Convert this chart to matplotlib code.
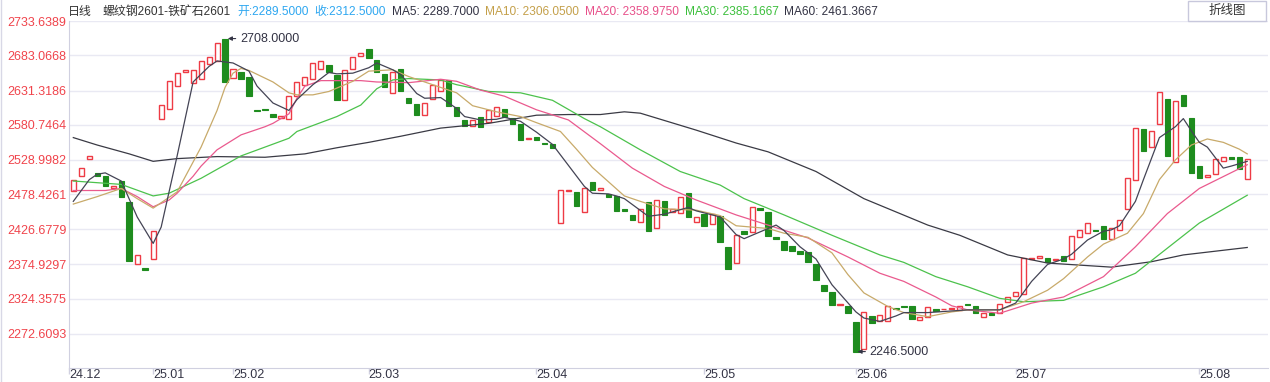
import numpy as np
import matplotlib
matplotlib.use("Agg")
import matplotlib.pyplot as plt
from matplotlib.patches import Rectangle

plt.rcParams["font.family"] = ["Liberation Sans", "Noto Sans CJK SC", "DejaVu Sans"]

# --- daily candles (no wicks shown) -------------------------------------------
opens = [2483, 2505, 2531, 2510, 2505, 2487, 2498, 2467, 2375, 2370,
         2383, 2590, 2604, 2638, 2659, 2643, 2649, 2670, 2675, 2708,
         2650, 2658, 2652, 2602, 2604, 2597, 2591, 2589, 2623, 2640,
         2648, 2663, 2669, 2654, 2617, 2663, 2682, 2692, 2676, 2656,
         2628, 2663, 2620, 2612, 2595, 2619, 2631, 2647, 2607, 2588,
         2579, 2593, 2585, 2594, 2604, 2591, 2582, 2560, 2563, 2554,
         2553, 2436, 2483, 2482, 2452, 2496, 2485, 2479, 2476, 2456,
         2448, 2438, 2467, 2429, 2469, 2452, 2451, 2480, 2438, 2449,
         2435, 2446, 2401, 2377, 2425, 2423, 2458, 2453, 2415, 2410,
         2402, 2395, 2394, 2376, 2345, 2335, 2315, 2313, 2290, 2251,
         2299, 2292, 2291, 2311, 2314, 2313, 2293, 2298, 2309, 2309,
         2309, 2308, 2316, 2313, 2297, 2304, 2304, 2320, 2329, 2331,
         2383, 2384, 2385, 2381, 2387, 2383, 2416, 2421, 2426, 2431,
         2412, 2426, 2456, 2500, 2574, 2548, 2582, 2619, 2526, 2625,
         2591, 2520, 2504, 2508, 2527, 2534, 2533, 2501]
closes = [2500, 2517, 2535, 2506, 2491, 2490, 2475, 2380, 2389, 2367,
          2424, 2610, 2645, 2657, 2662, 2662, 2675, 2681, 2701, 2644,
          2663, 2648, 2624, 2601, 2603, 2592, 2594, 2623, 2644, 2651,
          2672, 2675, 2658, 2617, 2662, 2681, 2687, 2680, 2658, 2637,
          2659, 2630, 2613, 2596, 2613, 2640, 2647, 2608, 2594, 2579,
          2588, 2577, 2603, 2607, 2593, 2582, 2558, 2562, 2558, 2553,
          2547, 2484, 2485, 2461, 2487, 2484, 2487, 2475, 2454, 2454,
          2441, 2456, 2425, 2470, 2448, 2456, 2475, 2445, 2445, 2432,
          2450, 2408, 2368, 2418, 2420, 2459, 2455, 2417, 2412, 2396,
          2395, 2391, 2378, 2352, 2336, 2315, 2317, 2304, 2246.5, 2305,
          2288, 2301, 2314, 2310, 2312, 2294, 2298, 2312, 2307, 2310,
          2311, 2313, 2315, 2304, 2304, 2301, 2317, 2327, 2334, 2384,
          2385, 2387, 2378, 2383, 2380, 2417, 2426, 2436, 2424, 2412,
          2428, 2440, 2502, 2576, 2542, 2571, 2629, 2535, 2616, 2608,
          2510, 2502, 2507, 2530, 2533, 2531, 2515, 2531]

# --- moving averages, sampled at candle indices ------------------------------
ma5_at = [0, 2, 3, 4, 6, 8, 10, 11, 13, 15, 17, 18, 20, 22, 23, 25, 27, 28, 30,
          32, 33, 35, 37, 38, 40, 41, 43, 44, 46, 48, 49, 51, 53, 54, 56, 58, 60,
          62, 64, 65, 67, 68, 69, 72, 74, 77, 78, 81, 83, 84, 86, 88, 89, 91, 93,
          95, 98, 99, 101, 103, 104, 107, 112, 116, 118, 120, 122, 124, 125, 127,
          129, 130, 131, 133, 134, 136, 138, 139, 140, 141, 142, 144, 145, 147]
ma5 = [2468, 2500, 2508, 2510, 2498, 2445, 2406, 2430, 2535, 2644, 2667, 2675,
       2672, 2660, 2638, 2613, 2602, 2618, 2640, 2658, 2656, 2657, 2665, 2672,
       2662, 2655, 2627, 2620, 2621, 2605, 2593, 2588, 2589, 2592, 2586, 2570,
       2552, 2521, 2490, 2480, 2479, 2476, 2472, 2446, 2449, 2459, 2454, 2445,
       2419, 2413, 2423, 2433, 2425, 2401, 2383, 2345, 2305, 2296, 2291, 2299,
       2304, 2304, 2308, 2308, 2318, 2350, 2375, 2383, 2390, 2411, 2424, 2426,
       2432, 2468, 2500, 2562, 2578, 2590, 2572, 2555, 2548, 2517, 2520, 2527]

ma10_at = [0, 3, 6, 8, 10, 13, 16, 18, 19, 20, 21, 22, 25, 27, 28, 30, 32, 35,
           37, 40, 42, 45, 48, 50, 53, 56, 58, 61, 63, 65, 69, 71, 74, 78, 81,
           83, 87, 89, 92, 95, 97, 99, 102, 104, 107, 110, 112, 116, 119, 122,
           124, 127, 129, 132, 134, 136, 138, 140, 142, 144, 146, 147]
ma10 = [2464, 2475, 2487, 2472, 2458, 2482, 2548, 2602, 2636, 2657, 2664, 2661,
        2644, 2628, 2625, 2625, 2630, 2645, 2660, 2662, 2652, 2640, 2628, 2609,
        2600, 2593, 2584, 2571, 2545, 2518, 2476, 2468, 2457, 2455, 2447, 2432,
        2428, 2421, 2415, 2392, 2360, 2333, 2313, 2304, 2298, 2305, 2308, 2308,
        2320, 2337, 2354, 2386, 2405, 2421, 2450, 2500, 2529, 2551, 2560, 2555,
        2545, 2538]

ma20_at = [0, 4, 6, 8, 10, 12, 13, 15, 16, 18, 21, 24, 25, 27, 28, 29, 31, 36,
           38, 42, 46, 48, 51, 54, 58, 62, 66, 70, 74, 78, 83, 87, 92, 97, 101,
           104, 108, 110, 112, 116, 120, 124, 129, 133, 137, 141, 147]
ma20 = [2484, 2484, 2487, 2475, 2460, 2470, 2480, 2505, 2520, 2544, 2566, 2578,
        2583, 2597, 2620, 2638, 2646, 2646, 2644, 2643, 2648, 2645, 2632, 2623,
        2603, 2588, 2553, 2517, 2490, 2470, 2448, 2433, 2414, 2386, 2362, 2350,
        2327, 2314, 2308, 2303, 2318, 2327, 2357, 2401, 2450, 2487, 2522]

ma30_at = [0, 6, 10, 12, 16, 21, 27, 28, 33, 36, 38, 40, 42, 46, 48, 52, 56, 60,
           64, 66, 71, 76, 81, 84, 89, 95, 101, 104, 108, 112, 116, 119, 124,
           129, 133, 137, 141, 147]
ma30 = [2498, 2493, 2476, 2480, 2502, 2535, 2561, 2571, 2593, 2610, 2634, 2647,
        2649, 2647, 2640, 2630, 2628, 2617, 2590, 2578, 2544, 2512, 2492, 2472,
        2448, 2418, 2389, 2378, 2357, 2342, 2325, 2320, 2322, 2342, 2362, 2399,
        2436, 2477]

ma60_at = [0, 3, 7, 10, 13, 18, 24, 29, 33, 37, 41, 46, 52, 58, 62, 66, 69, 71,
           78, 83, 87, 93, 99, 107, 111, 117, 122, 130, 135, 139, 147]
ma60 = [2562, 2551, 2538, 2527, 2531, 2534, 2533, 2538, 2547, 2555, 2564, 2576,
        2583, 2595, 2596, 2596, 2600, 2598, 2573, 2554, 2541, 2512, 2472, 2433,
        2418, 2389, 2377, 2371, 2379, 2389, 2400]

# --- axis labels ---------------------------------------------------------------
y_ticks = [2272.6093, 2324.3575, 2374.9297, 2426.6779, 2478.4261,
           2528.9982, 2580.7464, 2631.3186, 2683.0668, 2733.6389]
month_labels = ["24.12", "25.01", "25.02", "25.03", "25.04", "25.05", "25.06", "25.07", "25.08"]
month_start = [0, 10, 20, 37, 58, 79, 98, 118, 141]

header = [("日线", "#333333"),
          ("螺纹钢2601-铁矿石2601", "#333333"),
          ("开:2289.5000", "#2ea7f0"),
          ("收:2312.5000", "#2ea7f0"),
          ("MA5: 2289.7000", "#333344"),
          ("MA10: 2306.0500", "#c4a04a"),
          ("MA20: 2358.9750", "#e8508a"),
          ("MA30: 2385.1667", "#3cbf3c"),
          ("MA60: 2461.3667", "#333344")]

UP, DOWN = "#ee3b45", "#1e8c1e"
W, H = 1270, 382

fig = plt.figure(figsize=(W / 100, H / 100), dpi=100)
ax = fig.add_axes([69 / W, 14 / H, (1268 - 69) / W, (368 - 21) / H])
xlo, xhi = -0.54, 149.6
ax.set_xlim(xlo, xhi)
ax.set_ylim(2222.3, 2733.9)

idx = np.arange(len(opens))
o = np.array(opens, float)
c = np.array(closes, float)
up = c >= o
ax.bar(idx[up], (c - o)[up], bottom=o[up], width=0.64, facecolor="white",
       edgecolor=UP, linewidth=1.0, zorder=2)
ax.bar(idx[~up], (c - o)[~up], bottom=o[~up], width=0.68, facecolor=DOWN,
       edgecolor=DOWN, linewidth=0.8, zorder=2)

for at, vals, col in [(ma60_at, ma60, "#3a3a44"), (ma30_at, ma30, "#4cc24c"),
                      (ma20_at, ma20, "#ea5a8e"), (ma10_at, ma10, "#c8aa6a"),
                      (ma5_at, ma5, "#444455")]:
    ax.plot(at, vals, color=col, lw=0.9, zorder=3)

# extreme annotations
for xy, txt in [((19.35, 2708), "2708.0000"), ((98.2, 2246.5), "2246.5000")]:
    ax.annotate(txt, xy=xy, xytext=(12, 0), textcoords="offset pixels",
                va="center", ha="left", fontsize=9, color="#333344",
                arrowprops=dict(arrowstyle="-|>", color="#333344", lw=0.8,
                                mutation_scale=6, shrinkA=1, shrinkB=0), zorder=4)

ax.set_yticks(y_ticks)
ax.set_yticklabels([f"{v:.4f}" for v in y_ticks], color="#f0444c", fontsize=9)
ax.tick_params(axis="y", length=0, pad=2)
ax.grid(axis="y", color="#e9e9f3", lw=1, zorder=0)

xt = [xlo] + month_start[1:]
ax.set_xticks(xt)
ax.set_xticklabels(month_labels, ha="left", color="#333344", fontsize=9)
ax.tick_params(axis="x", length=4, width=1, color="#d0d0e0", pad=-3.5)
for s in ["top", "right"]:
    ax.spines[s].set_visible(False)
for s in ["left", "bottom"]:
    ax.spines[s].set_color("#d0d0e0")

# header line, laid out left to right
renderer = fig.canvas.get_renderer()
x = 68
for i, (txt, col) in enumerate(header):
    t = fig.text(x / W, 1 - 12 / H, txt, color=col, fontsize=8.6, ha="left", va="center")
    x += t.get_window_extent(renderer).width + (11 if i == 0 else 6)

fig.patches.append(Rectangle((1188 / W, 1 - 21 / H), 78 / W, 20 / H, transform=fig.transFigure,
                             facecolor="white", edgecolor="#c8c8dc", lw=1))
fig.text(1227 / W, 1 - 11 / H, "折线图", color="#333333", fontsize=9, ha="center", va="center")
fig.add_artist(plt.Line2D([0.5 / W, 0.5 / W], [0, 1], transform=fig.transFigure,
                          color="#d8d8e6", lw=1))

fig.savefig("out.png", dpi=100)
